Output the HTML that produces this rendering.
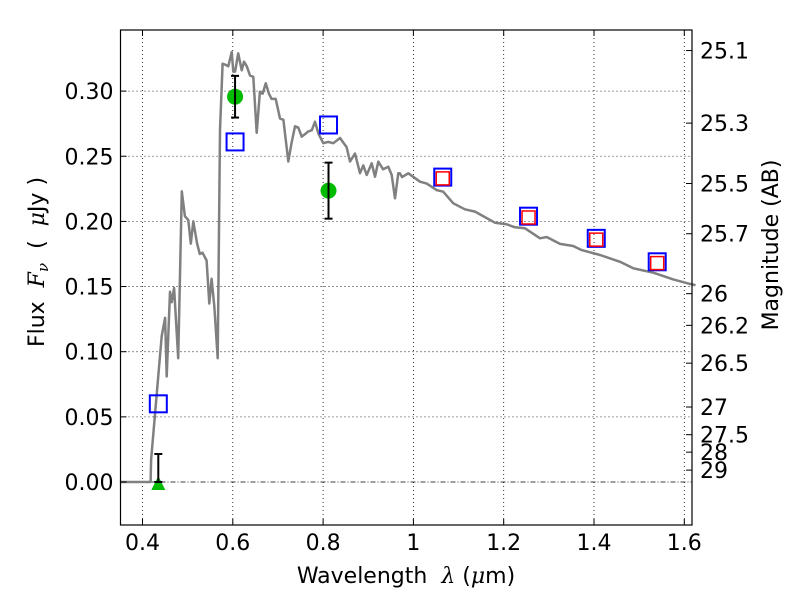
<!DOCTYPE html>
<html><head><meta charset="utf-8"><style>
html,body{margin:0;padding:0;background:#fff;}
svg{display:block;font-family:"DejaVu Sans","Liberation Sans",sans-serif;}
</style></head><body>
<svg id="chart" width="800" height="600" viewBox="0 0 800 600"></svg>
<script>
const specWl=[0.35,0.418,0.419,0.4425,0.450,0.4536,0.461,0.4646,0.470,0.479,0.487,0.494,0.5015,0.507,0.5125,0.521,0.527,0.533,0.542,0.548,0.553,0.559,0.5665,0.5717,0.5775,0.585,0.590,0.5975,0.601,0.605,0.612,0.6197,0.6248,0.631,0.638,0.6455,0.653,0.660,0.666,0.673,0.680,0.686,0.695,0.7045,0.712,0.723,0.730,0.7378,0.745,0.7526,0.760,0.767,0.775,0.782,0.790,0.8005,0.811,0.8226,0.8374,0.852,0.8595,0.8706,0.8817,0.889,0.8966,0.9076,0.915,0.9223,0.933,0.9445,0.952,0.9592,0.9666,0.970,0.975,0.9887,1.0146,1.0295,1.0516,1.066,1.0884,1.114,1.1365,1.1807,1.2066,1.225,1.2472,1.2804,1.2953,1.3247,1.354,1.3727,1.4133,1.4576,1.487,1.5313,1.5756,1.6125,1.625];
const specFlux=[0,0,0.017,0.112,0.126,0.081,0.146,0.138,0.149,0.095,0.223,0.204,0.201,0.183,0.200,0.183,0.175,0.176,0.170,0.137,0.156,0.135,0.095,0.270,0.321,0.320,0.319,0.330,0.315,0.315,0.329,0.316,0.3226,0.319,0.312,0.311,0.268,0.2995,0.298,0.306,0.298,0.294,0.294,0.279,0.278,0.246,0.260,0.273,0.272,0.265,0.267,0.269,0.270,0.2765,0.267,0.260,0.261,0.260,0.264,0.257,0.246,0.252,0.237,0.243,0.2356,0.2446,0.2343,0.2458,0.240,0.242,0.2356,0.2177,0.237,0.2369,0.2340,0.2369,0.2305,0.229,0.224,0.2228,0.2139,0.2093,0.2075,0.199,0.1978,0.1955,0.1947,0.187,0.1880,0.1827,0.1811,0.178,0.1742,0.169,0.164,0.1606,0.1555,0.152,0.151];
const detWl=[0.605,0.812];
const detFlux=[0.2957,0.2236];
const detErr=[0.0160,0.0215];
const limWl=[0.435];
const limFlux=[0.0];
const limTop=[0.0215];
const modelWl=[0.435,0.605,0.812,1.065,1.255,1.405,1.54];
const modelFlux=[0.060,0.261,0.274,0.234,0.204,0.187,0.169];
const fitWl=[1.065,1.255,1.405,1.54];
const fitFlux=[0.233,0.203,0.186,0.168];
const xTicks=[0.4,0.6,0.8,1.0,1.2,1.4,1.6];
const xTickLabels=["0.4","0.6","0.8","1","1.2","1.4","1.6"];
const yTicks=[0,0.05,0.10,0.15,0.20,0.25,0.30];
const yTickLabels=["0.00","0.05","0.10","0.15","0.20","0.25","0.30"];
const magTicks=[25.1,25.3,25.5,25.7,26,26.2,26.5,27,27.5,28,29];
const magLabels=["25.1","25.3","25.5","25.7","26","26.2","26.5","27","27.5","28","29"];

const L=120.5,R=692,T=30,B=525;
const xs=v=>142.5+(v-0.4)*451.5;
const ys=v=>482-v*1303;
const NS="http://www.w3.org/2000/svg";
const svg=document.getElementById('chart');
function mk(tag,at,parent){const e=document.createElementNS(NS,tag);for(const k in at)e.setAttribute(k,at[k]);(parent||svg).appendChild(e);return e;}

const grid=mk('g',{});


xTicks.forEach(v=>{mk('line',{x1:xs(v),x2:xs(v),y1:T,y2:B,stroke:'#000','stroke-width':0.8,'stroke-dasharray':'1,3'},grid);});
yTicks.forEach(v=>{if(v!==0)mk('line',{x1:L,x2:R,y1:ys(v),y2:ys(v),stroke:'#000','stroke-width':0.8,'stroke-dasharray':'1,3'},grid);});
const zl=mk('line',{x1:L,x2:R,y1:ys(0),y2:ys(0),stroke:'#000','stroke-width':0.8,'stroke-dasharray':'5,2,1,2'});



let d='';
specWl.forEach((w,i)=>{d+=(i?'L':'M')+xs(w).toFixed(1)+','+ys(specFlux[i]).toFixed(1);});
const sp=mk('path',{d:d,fill:'none',stroke:'#808080','stroke-width':2.5,'stroke-linejoin':'round'});



modelWl.forEach((w,i)=>{const r=mk('rect',{x:xs(w)-8.5,y:ys(modelFlux[i])-8.5,width:17,height:17,fill:'none',stroke:'#0000ff','stroke-width':2});

});
fitWl.forEach((w,i)=>{const r=mk('rect',{x:xs(w)-6.5,y:ys(fitFlux[i])-6.5,width:13,height:13,fill:'none',stroke:'#ff0000','stroke-width':1.5});

});

detWl.forEach((w,i)=>{const g=mk('g',{});


const x=xs(w),y1=ys(detFlux[i]+detErr[i]),y2=ys(detFlux[i]-detErr[i]);
mk('circle',{cx:x,cy:ys(detFlux[i]),r:8,fill:'#00bb00'},g);
mk('line',{x1:x,x2:x,y1:y1,y2:y2,stroke:'#000','stroke-width':2},g);
mk('line',{x1:x-4,x2:x+4,y1:y1,y2:y1,stroke:'#000','stroke-width':2},g);
mk('line',{x1:x-4,x2:x+4,y1:y2,y2:y2,stroke:'#000','stroke-width':2},g);});
limWl.forEach((w,i)=>{const g=mk('g',{});


const x=xs(w),y=ys(limFlux[i]),yt=ys(limTop[i]);
mk('polygon',{points:`${x-7},${y+8} ${x+7},${y+8} ${x},${y-6}`,fill:'#00bb00'},g);
mk('line',{x1:x,x2:x,y1:yt,y2:y,stroke:'#000','stroke-width':2},g);
mk('line',{x1:x-4,x2:x+4,y1:yt,y2:yt,stroke:'#000','stroke-width':2},g);
mk('line',{x1:x-4,x2:x+4,y1:y,y2:y,stroke:'#000','stroke-width':2},g);});

const fr=mk('rect',{x:L,y:T,width:R-L,height:B-T,fill:'none',stroke:'#000','stroke-width':1.2});



const FS=22;
const xa=mk('g',{});


xTicks.forEach((v,i)=>{mk('line',{x1:xs(v),x2:xs(v),y1:B,y2:B-6,stroke:'#000'},xa);mk('line',{x1:xs(v),x2:xs(v),y1:T,y2:T+6,stroke:'#000'},xa);
const t=mk('text',{x:xs(v),y:550,'font-size':FS,'text-anchor':'middle'},xa);t.textContent=xTickLabels[i];});
const ya=mk('g',{});


yTicks.forEach((v,i)=>{mk('line',{x1:L,x2:L+6,y1:ys(v),y2:ys(v),stroke:'#000'},ya);
const t=mk('text',{x:L-7,y:ys(v)+8,'font-size':FS,'text-anchor':'end'},ya);t.textContent=yTickLabels[i];});
const ma=mk('g',{});


magTicks.forEach((m,i)=>{const y=ys(Math.pow(10,(23.9-m)/2.5));mk('line',{x1:R,x2:R-6,y1:y,y2:y,stroke:'#000'},ma);
const t=mk('text',{x:R+8,y:y+8,'font-size':FS},ma);t.textContent=magLabels[i];});

const xt=mk('text',{x:406,y:583,'font-size':FS,'text-anchor':'middle'});


xt.innerHTML='Wavelength\u00a0\u00a0<tspan font-style="italic" font-family="DejaVu Serif, serif">λ</tspan> (<tspan font-style="italic" font-family="DejaVu Serif, serif">μ</tspan>m)';
const yt=mk('text',{x:0,y:0,'font-size':FS,'text-anchor':'middle',transform:'translate(44,262) rotate(-90)'});


yt.innerHTML='Flux\u00a0\u00a0<tspan font-style="italic" font-family="DejaVu Serif, serif">F<tspan font-size="15" dy="4">ν</tspan></tspan><tspan dy="-4">\u00a0\u00a0(\u00a0\u00a0</tspan><tspan font-style="italic" font-family="DejaVu Serif, serif">μ</tspan>Jy )';
const rt=mk('text',{x:0,y:0,'font-size':FS,'text-anchor':'middle',transform:'translate(778,245) rotate(-90)'});


rt.textContent='Magnitude (AB)';
</script>
</body></html>
